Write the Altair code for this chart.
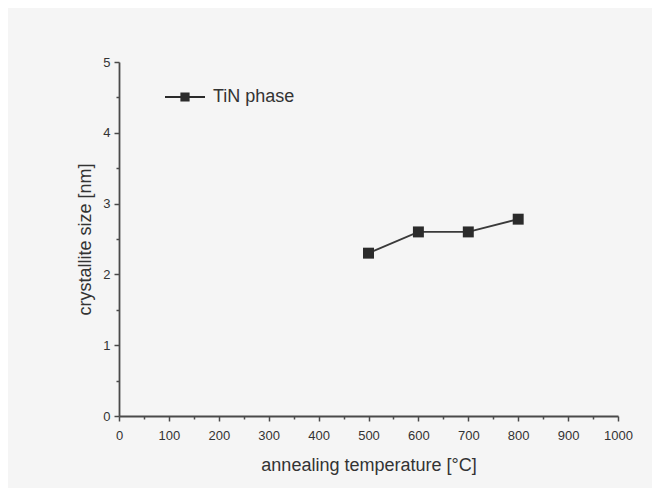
import altair as alt
import pandas as pd

temperature = [500, 600, 700, 800]
size_nm = [2.30, 2.60, 2.60, 2.78]
series = ["TiN phase"] * 4

x_major = [0, 100, 200, 300, 400, 500, 600, 700, 800, 900, 1000]
x_minor = [50, 150, 250, 350, 450, 550, 650, 750, 850, 950]
y_major = [0, 1, 2, 3, 4, 5]
y_minor = [0.5, 1.5, 2.5, 3.5, 4.5]

df = pd.DataFrame({"t": temperature, "s": size_nm, "series": series})

FONT = "Liberation Sans"
AX = "#4a4a4a"
INK = "#2b2b2b"

xscale = alt.Scale(domain=[0, 1000], nice=False, zero=False)
yscale = alt.Scale(domain=[0, 5], nice=False)

legend_path = ("M-1,-0.05L1,-0.05L1,0.05L-1,0.05Z "
               "M-0.23,-0.23L0.23,-0.23L0.23,0.23L-0.23,0.23Z")

base = alt.Chart(df)

line = base.mark_line(color="#3a3a3a", strokeWidth=1.8).encode(
    x=alt.X("t:Q", scale=xscale,
            axis=alt.Axis(values=x_major, title="annealing temperature [°C]",
                          orient="bottom", format="d", grid=False,
                          labelFlush=False, labelOverlap=False,
                          tickSize=5, tickWidth=1.5, domainWidth=1.8,
                          domainColor=AX, tickColor=AX, labelPadding=8,
                          labelFontSize=13, labelColor="#333333",
                          labelFont=FONT, titleFont=FONT, titleFontSize=18,
                          titleFontWeight="normal", titleColor="#333333",
                          titlePadding=14)),
    y=alt.Y("s:Q", scale=yscale,
            axis=alt.Axis(values=y_major, title="crystallite size [nm]",
                          orient="left", format="d", grid=False,
                          labelFlush=False, labelOverlap=False,
                          tickSize=5, tickWidth=1.5, domainWidth=1.8,
                          domainColor=AX, tickColor=AX, labelPadding=4,
                          labelFontSize=13, labelColor="#333333",
                          labelFont=FONT, titleFont=FONT, titleFontSize=18,
                          titleFontWeight="normal", titleColor="#333333",
                          titlePadding=8)),
)

points = base.mark_point(shape="square", filled=True, size=120, opacity=1,
                         strokeWidth=0).encode(
    x=alt.X("t:Q", scale=xscale,
            axis=alt.Axis(values=x_minor, labels=False, title=None,
                          domain=False, orient="bottom", grid=False,
                          tickSize=3, tickWidth=1.5, tickColor=AX)),
    y=alt.Y("s:Q", scale=yscale,
            axis=alt.Axis(values=y_minor, labels=False, title=None,
                          domain=False, orient="left", grid=False,
                          tickSize=3, tickWidth=1.5, tickColor=AX)),
    color=alt.Color("series:N",
                    scale=alt.Scale(range=[INK]),
                    legend=alt.Legend(title=None, orient="none",
                                      legendX=46, legendY=15, padding=0,
                                      symbolType=legend_path, symbolSize=1600,
                                      symbolStrokeWidth=0, symbolOpacity=1,
                                      labelFont=FONT, labelFontSize=18,
                                      labelColor="#333333", labelOffset=8)),
)

chart = alt.layer(line, points).resolve_axis(
    x="independent", y="independent"
).properties(
    width=499, height=354,
    background="#f5f5f5",
    padding={"left": 111, "top": 54, "right": 34, "bottom": 72},
    autosize=alt.AutoSizeParams(type="none"),
).configure_view(stroke=None)

chart.save("out.html", embed_options={"renderer": "svg", "actions": False})
